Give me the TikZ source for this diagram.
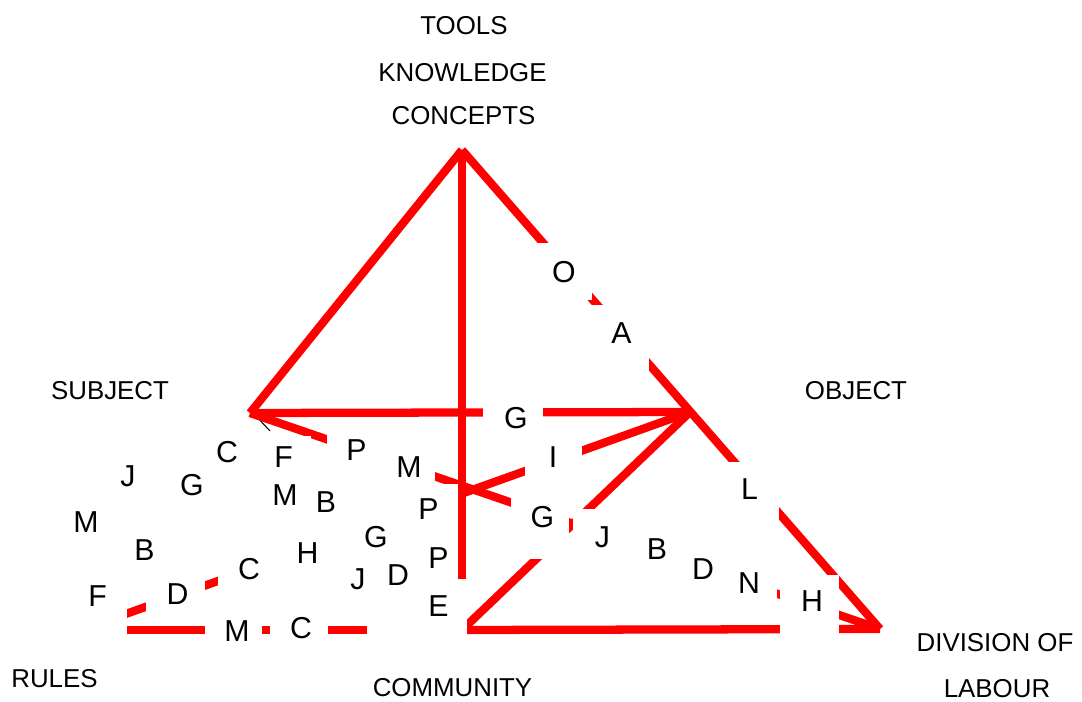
\documentclass[tikz,border=0pt]{standalone}
\usepackage{fontspec}
\setmainfont{Liberation Sans}
\begin{document}
\begin{tikzpicture}[x=0.75pt,y=-0.75pt,
  edge/.style={draw=red,line width=6.2pt},
  thin/.style={draw=black,line width=0.8pt},
  backing/.style={fill=white},
  lab/.style={inner sep=0pt,font=\fontsize{19.4}{23}\selectfont},
  let/.style={inner sep=0pt,font=\fontsize{22.7}{27}\selectfont}]
\useasboundingbox (0,0) rectangle (1082,702);

% corners of the activity system
\coordinate (apex) at (462,150);
\coordinate (subj) at (250,413);
\coordinate (obj)  at (690,412);
\coordinate (div)  at (880,629);
\coordinate (comm) at (462,630);
\coordinate (rules) at (81,630);
\coordinate (tickA) at (254,414);
\coordinate (tickB) at (270,431);

\draw[thin] (tickA) -- (tickB);

% red connectors
\draw[edge] (apex) -- (subj);
\draw[edge] (apex) -- (div);
\draw[edge] (apex) -- (comm);
\draw[edge] (subj) -- (obj);
\draw[edge] (subj) -- (div);
\draw[edge] (rules) -- (obj);
\draw[edge] (obj) -- (comm);
\draw[edge] (comm) -- (div);
\draw[edge] (rules) -- (comm);

% white backings of the letter boxes
\fill[backing] (533,243) rectangle (592,300);
\fill[backing] (592,305) rectangle (649,380);
\fill[backing] (720,462) rectangle (779,530);
\fill[backing] (779.5,575) rectangle (838.5,640);
\fill[backing] (720,555) rectangle (777,625);
\fill[backing] (680,541) rectangle (722,612);
\fill[backing] (627,521) rectangle (685,600);
\fill[backing] (573,509) rectangle (630,580);
\fill[backing] (511,486) rectangle (569,559);
\fill[backing] (525,428) rectangle (582,500);
\fill[backing] (483,390) rectangle (543,455);
\fill[backing] (380,440) rectangle (435,505);
\fill[backing] (327,425) rectangle (385,490);
\fill[backing] (262,436) rectangle (311,505);
\fill[backing] (146,560) rectangle (205,625);
\fill[backing] (218,540) rectangle (278,610);
\fill[backing] (278,520) rectangle (340,590);
\fill[backing] (340,505) rectangle (405,570);
\fill[backing] (400,484) rectangle (458,545);
\fill[backing] (60,567) rectangle (127,640);
\fill[backing] (205,600) rectangle (262,640);
\fill[backing] (270,600) rectangle (328,640);
\fill[backing] (367,579) rectangle (467,640);

% corner labels
\node[lab] (tools) at (464,25.5) {TOOLS};
\node[lab] (know) at (462.5,72.5) {KNOWLEDGE};
\node[lab] (conc) at (463.5,116) {CONCEPTS};
\node[lab] (subjL) at (110,390.5) {SUBJECT};
\node[lab] (objL) at (856,390.5) {OBJECT};
\node[lab] (rulesL) at (54.5,679) {RULES};
\node[lab] (commL) at (452.5,687.5) {COMMUNITY};
\node[lab] (divL) at (995,642.5) {DIVISION OF};
\node[lab] (labL) at (997,688.5) {LABOUR};

% letters
\node[let] (l1) at (564,272.5) {O};
\node[let] (l2) at (621.5,333.5) {A};
\node[let] (l3) at (516,418) {G};
\node[let] (l4) at (553,457.5) {I};
\node[let] (l5) at (749.5,489) {L};
\node[let] (l6) at (542.5,517) {G};
\node[let] (l7) at (602.5,537.5) {J};
\node[let] (l8) at (657,549.5) {B};
\node[let] (l9) at (703,569) {D};
\node[let] (l10) at (749,583.5) {N};
\node[let] (l11) at (812,601) {H};
\node[let] (l12) at (227,452) {C};
\node[let] (l13) at (283.5,457.5) {F};
\node[let] (l14) at (356.5,450) {P};
\node[let] (l15) at (409,467.5) {M};
\node[let] (l16) at (285,495.5) {M};
\node[let] (l17) at (326,502) {B};
\node[let] (l18) at (428.5,509) {P};
\node[let] (l19) at (376,537) {G};
\node[let] (l20) at (307.5,553.5) {H};
\node[let] (l21) at (249,569) {C};
\node[let] (l22) at (358,579) {J};
\node[let] (l23) at (398,575.5) {D};
\node[let] (l24) at (438.5,558.5) {P};
\node[let] (l25) at (438.5,606.5) {E};
\node[let] (l26) at (237,631) {M};
\node[let] (l27) at (301,628) {C};
\node[let] (l28) at (128,476) {J};
\node[let] (l29) at (192,485.5) {G};
\node[let] (l30) at (86,522.5) {M};
\node[let] (l31) at (144.5,550.5) {B};
\node[let] (l32) at (97.5,596) {F};
\node[let] (l33) at (177.5,594) {D};
\end{tikzpicture}
\end{document}
